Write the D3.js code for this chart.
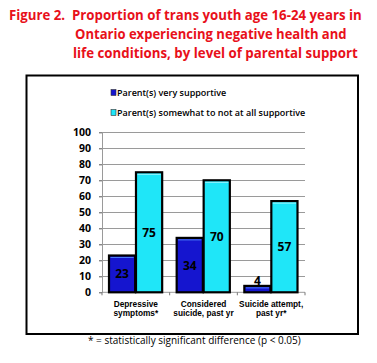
<!DOCTYPE html>
<html><head><meta charset="utf-8">
<script src="https://cdn.jsdelivr.net/npm/d3@7/dist/d3.min.js"></script>
<style>body{margin:0;background:#fff}svg{display:block}</style>
</head><body>
<svg id="c" width="377" height="363"></svg>
<script>
const titleLines = ["Figure 2.  Proportion of trans youth age 16-24 years in",
  "Ontario experiencing negative health and",
  "life conditions, by level of parental support"];
const categories = [["Depressive","symptoms*"],["Considered","suicide, past yr"],["Suicide attempt,","past yr*"]];
const seriesNames = ["Parent(s) very supportive","Parent(s) somewhat to not at all supportive"];
const verySupportive = [23, 34, 4];
const notSupportive = [75, 70, 57];
const yTicks = [0,10,20,30,40,50,60,70,80,90,100];
const footnote = "* = statistically significant difference (p < 0.05)";

const colors = ["#1515cf", "#1fe6f8"];
const highlight = ["#4a7cf5", "#9ef6ff"];
const svg = d3.select("#c");
const font = "'Open Sans', 'Liberation Sans', sans-serif";
const font2 = "'Liberation Sans', Arial, sans-serif";

function fitText(sel, x, w){
  const nat = sel.node().getComputedTextLength();
  const k = Math.min(1, w / nat);
  sel.attr("x", 0).attr("transform", `translate(${x},0) scale(${k},1)`);
}

// title
const titleX = [9, 75, 73], titleW = [353, 272, 285], titleY = [20, 39, 58];
titleLines.forEach((t,i)=>{
  const tx = svg.append("text").attr("y",titleY[i]).text(t)
    .style("white-space","pre")
    .attr("fill","#e8101a").attr("font-family",font).attr("font-weight","bold")
    .attr("font-size",15);
  fitText(tx, titleX[i], titleW[i]);
});

// frame
svg.append("rect").attr("x",26.5).attr("y",75.5).attr("width",331.5).attr("height",258.5)
  .attr("fill","none").attr("stroke","#000").attr("stroke-width",2);

const y = d3.scaleLinear().domain([0,100]).range([292.3,132.3]);
const x0 = d3.scaleBand().domain(d3.range(categories.length)).range([102,305]);
const x1 = d3.scaleBand().domain([0,1]).range([7, x0.bandwidth()-7.5]).paddingInner(0.03);

// gridlines
svg.append("g").selectAll("line").data(yTicks.filter(d=>d>0)).join("line")
  .attr("x1",102).attr("x2",305).attr("y1",d=>Math.round(y(d))+0.5).attr("y2",d=>Math.round(y(d))+0.5)
  .attr("stroke","#9a9a9a").attr("stroke-width",1);

// y axis
const ya = svg.append("g").attr("transform","translate(102,0)")
  .call(d3.axisLeft(y).tickValues(yTicks).tickSize(3).tickSizeOuter(0).tickPadding(8));
ya.select(".domain").attr("stroke","#9a9a9a");
ya.selectAll(".tick line").attr("stroke","#555");
ya.selectAll("text").attr("font-family",font).attr("font-weight","bold").attr("font-size",10.5).attr("fill","#000");

// x axis
const xa = svg.append("g").attr("transform",`translate(0,${y(0)})`);
xa.append("line").attr("x1",102).attr("x2",305).attr("stroke","#9a9a9a");
xa.selectAll(".tk").data(d3.range(categories.length+1)).join("line")
  .attr("x1",d=>102+d*x0.bandwidth()).attr("x2",d=>102+d*x0.bandwidth()).attr("y1",0).attr("y2",3).attr("stroke","#777");

// bars
const data = [verySupportive, notSupportive];
categories.forEach((c,i)=>{
  data.forEach((s,j)=>{
    const bx = x0(i)+x1(j), bw = x1.bandwidth(), top = y(s[i]), h = y(0)-y(s[i]);
    svg.append("rect").attr("x",bx).attr("y",top).attr("width",bw).attr("height",h)
      .attr("fill",colors[j]).attr("stroke","#000").attr("stroke-width",2.2);
    svg.append("line").attr("x1",bx+1.5).attr("x2",bx+bw-1.5).attr("y1",top+2).attr("y2",top+2)
      .attr("stroke",highlight[j]).attr("stroke-width",1);
    const ly = s[i] < 8 ? top - 1 : y(s[i]/2) + 4.5;
    svg.append("text").attr("x",bx+bw/2).attr("y",ly).attr("text-anchor","middle")
      .attr("font-family",font).attr("font-weight","bold").attr("font-size",12).attr("fill","#000")
      .text(s[i]);
  });
  c.forEach((line,k)=>{
    svg.append("text").attr("x",x0(i)+x0.bandwidth()/2).attr("y",306.5+k*9.8).attr("text-anchor","middle")
      .attr("font-family",font2).attr("font-size",8.3).attr("font-weight","bold").attr("fill","#000").text(line);
  });
});

// legend
const legY = [93, 113];
seriesNames.forEach((n,j)=>{
  svg.append("rect").attr("x",111).attr("y",legY[j]-3.5).attr("width",5).attr("height",6)
    .attr("fill",colors[j]).attr("stroke","#333").attr("stroke-width",0.6);
  svg.append("text").attr("x",117).attr("y",legY[j]+3).attr("font-family",font).attr("font-weight",600)
    .attr("font-size",9).attr("fill","#000").text(n);
});

// footnote
svg.append("text").attr("x",88).attr("y",344).attr("font-family",font).attr("font-size",10)
  .attr("fill","#000").text(footnote);
</script>
</body></html>
